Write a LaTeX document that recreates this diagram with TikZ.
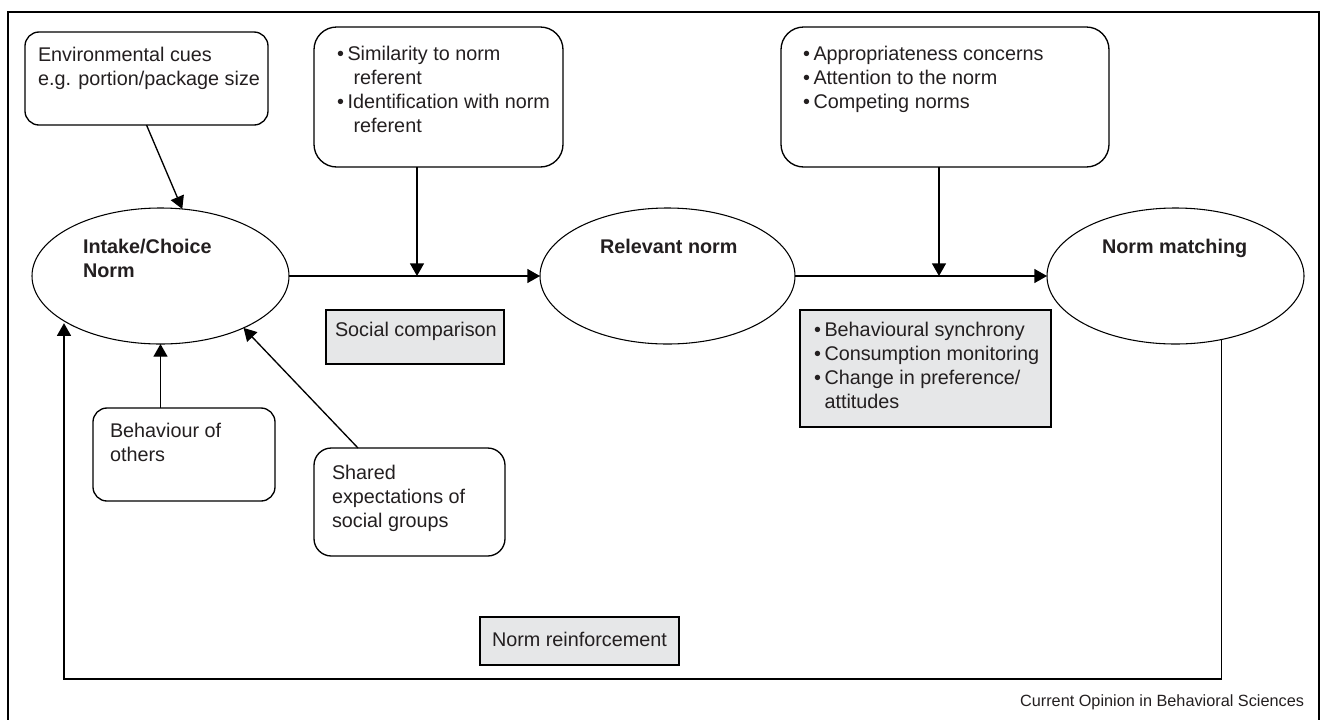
\documentclass[tikz,border=0pt]{standalone}
\usepackage{fontspec}
\setmainfont{Liberation Sans}
\usepackage{xcolor}
\usetikzlibrary{shapes.geometric,arrows.meta}
\definecolor{boxgrey}{RGB}{230,231,232}
\definecolor{inkgrey}{RGB}{35,31,32}
\newcommand{\bul}{\textbullet\hspace{2.7pt}}
\newcommand{\bulind}{\phantom{\textbullet}\hspace{2.7pt}}

\begin{document}
\begin{tikzpicture}[x=0.75pt,y=0.75pt,yscale=-1,xscale=1,
  every node/.style={inner sep=0pt,outer sep=0pt},
  txt/.style={anchor=north west,align=left,text=inkgrey,font=\fontsize{14.85pt}{18pt}\selectfont},
  boldtxt/.style={txt,font=\fontsize{14.85pt}{18pt}\selectfont\bfseries},
  cue/.style={draw,line width=1pt,rounded corners=10.5pt},
  cuebig/.style={cue,rounded corners=17pt},
  mech/.style={draw,line width=1pt,fill=boxgrey},
  normell/.style={draw,ellipse,line width=0.8pt,minimum width=192.75pt,minimum height=102pt},
  arr/.style={line width=1pt,-{Triangle[length=9.5pt,width=10.5pt]}}]
\useasboundingbox (0,0) rectangle (1321,719);
%Frame
\draw [line width=1.1pt] (8,730) -- (8,12) -- (1319,12) -- (1319,730);
%Shape: Ellipse
\node (intake) [normell] at (160.5,276) {};
%Shape: Ellipse
\node (relevant) [normell,minimum width=191.25pt] at (667.5,276) {};
%Shape: Ellipse
\node (match) [normell] at (1175.5,276) {};
%Rounded Rect
\node (envcues) [cue,minimum width=182.25pt,minimum height=69.75pt] at (146.5,78.5) {};
%Rounded Rect
\node (simil) [cuebig,minimum width=186.75pt,minimum height=105pt] at (438.5,97) {};
%Rounded Rect
\node (approp) [cuebig,minimum width=246pt,minimum height=105pt] at (945,97) {};
%Rounded Rect
\node (behav) [cue,minimum width=136.5pt,minimum height=69.75pt] at (184,454.5) {};
%Rounded Rect
\node (shared) [cue,rounded corners=13pt,minimum width=143.25pt,minimum height=81pt] at (409.5,502) {};
%Shape: Rectangle
\node (socialcmp) [mech,minimum width=133.5pt,minimum height=40.5pt] at (415,337) {};
%Shape: Rectangle
\node (synchrony) [mech,minimum width=188.25pt,minimum height=87.75pt] at (925.5,368.5) {};
%Shape: Rectangle
\node (reinforce) [mech,minimum width=149.25pt,minimum height=36pt] at (579.5,641) {};
% Text Node
\node (envtxt) [txt] at (38,47.5) {Environmental cues\\e.g. portion/package size};
% Text Node
\node (similtxt) [txt] at (337,46.5) {\bul Similarity to norm\\\bulind\hspace{4.5pt}referent\\\bul Identification with norm\\\bulind\hspace{4.5pt}referent};
% Text Node
\node (approptxt) [txt] at (803,46.5) {\bul Appropriateness concerns\\\bul Attention to the norm\\\bul Competing norms};
% Text Node
\node (intaketxt) [boldtxt] at (83,239.5) {Intake/Choice\\Norm};
% Text Node
\node (relevtxt) [boldtxt] at (600,239.5) {Relevant norm};
% Text Node
\node (matchtxt) [boldtxt] at (1102,239.5) {Norm matching};
% Text Node
\node (socialtxt) [txt] at (335,322.5) {Social comparison};
% Text Node
\node (synctxt) [txt] at (814,322.5) {\bul Behavioural synchrony\\\bul Consumption monitoring\\\bul Change in preference/\\\bulind attitudes};
% Text Node
\node (behavtxt) [txt] at (110,423.5) {Behaviour of\\others};
% Text Node
\node (sharedtxt) [txt] at (332,465.5) {Shared\\expectations of\\social groups};
% Text Node
\node (reinftxt) [txt] at (492,632.5) {Norm reinforcement};
% Text Node
\node (caption) [anchor=east,text=inkgrey,font=\fontsize{12.2pt}{14pt}\selectfont] at (1304,702) {Current Opinion in Behavioral Sciences};
%Straight Lines
\coordinate (simjoin) at (417,276);
\coordinate (appjoin) at (939,276);
\coordinate (sharedfoot) at (358,448);
\coordinate (loopcorner) at (64,679);
\draw [arr] (envcues.south) -- (intake.72);
\draw [arr] (simil.south -| simjoin) -- (simjoin);
\draw [arr] (approp.south -| appjoin) -- (appjoin);
\draw [arr] (intake.east) -- (relevant.west);
\draw [arr] (relevant.east) -- (match.west);
\draw [arr] (behav.north -| intake.south) -- (intake.south);
\draw [arr] (sharedfoot) -- (intake.328);
%Feedback loop
\draw [arr] (match.306) |- (loopcorner) -- (loopcorner |- intake.207);
\end{tikzpicture}
\end{document}
